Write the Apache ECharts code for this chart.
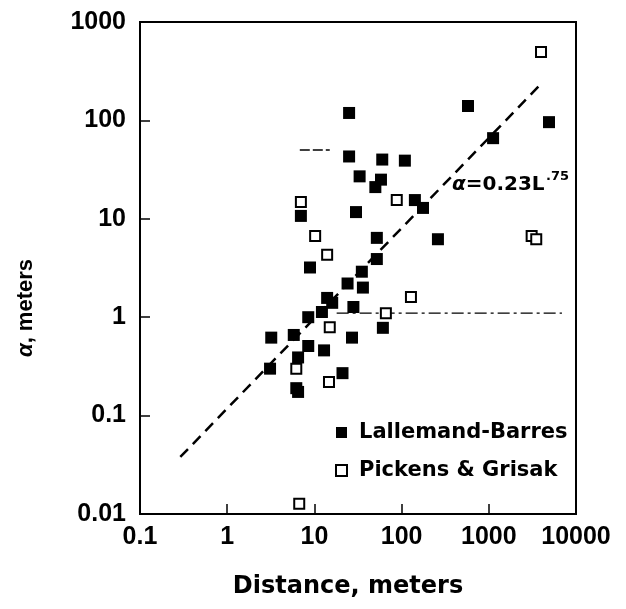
<!DOCTYPE html>
<html>
<head>
<meta charset="utf-8">
<script src="https://cdn.jsdelivr.net/npm/echarts@6/dist/echarts.min.js"></script>
<style>
html,body{margin:0;padding:0;background:#fff;}
#chart{width:626px;height:609px;}
</style>
</head>
<body>
<div id="chart"></div>
<script>
// ---- data ----
var lallemandX = [25, 25, 60, 109, 33, 58, 50, 577, 4900, 1120, 142, 176, 30, 7.0, 52, 261, 52, 8.9, 35, 24, 36, 14, 16, 28, 12.2, 8.5, 61, 27, 3.2, 5.8, 8.5, 12.9, 6.5, 3.1, 21, 6.2, 6.5];
var lallemandY = [119, 43, 40, 39, 27, 25, 21, 140, 96, 66, 15.5, 12.9, 11.7, 10.7, 6.4, 6.2, 3.9, 3.2, 2.9, 2.2, 2.0, 1.57, 1.4, 1.27, 1.13, 1.0, 0.78, 0.62, 0.62, 0.66, 0.51, 0.46, 0.39, 0.30, 0.27, 0.19, 0.174];
var pickensX = [3970, 88, 7.0, 10.2, 14, 3100, 3500, 128, 66, 15, 6.2, 14.7, 6.7];
var pickensY = [495, 15.5, 14.8, 6.7, 4.3, 6.7, 6.2, 1.6, 1.1, 0.79, 0.30, 0.22, 0.0127];
var fitLineX = [0.29, 4070];
var fitLineY = [0.038, 240];
var upperRefX = [6.8, 15];
var upperRefY = [50, 50];
var lowerRefX = [18, 6900];
var lowerRefY = [1.1, 1.1];
var xTickLabels = ['0.1', '1', '10', '100', '1000', '10000'];
var yTickLabels = ['0.01', '0.1', '1', '10', '100', '1000'];
var seriesNames = ['Lallemand-Barres', 'Pickens & Grisak'];

function zip(a, b) { return a.map(function (v, i) { return [v, b[i]]; }); }

var tickFont = 'Liberation Sans, Arial, sans-serif';
var wideFont = 'DejaVu Sans, sans-serif';
var chart = echarts.init(document.getElementById('chart'), null, {renderer: 'canvas'});
var option = {
  animation: false,
  backgroundColor: '#fff',
  grid: {left: 140, top: 22, width: 436, height: 492, show: true, borderColor: '#000', borderWidth: 2, backgroundColor: 'transparent'},
  xAxis: {
    type: 'log', logBase: 10, min: 0.1, max: 10000,
    axisLine: {show: true, lineStyle: {color: '#000', width: 2}},
    axisTick: {show: true, inside: true, length: 10, lineStyle: {color: '#000', width: 1.5}},
    minorTick: {show: false},
    splitLine: {show: false},
    axisLabel: {
      margin: 11, color: '#000', fontSize: 25, fontWeight: 'bold', fontFamily: tickFont,
      formatter: function (v) { return xTickLabels[Math.round(Math.log10(v)) + 1]; }
    }
  },
  yAxis: {
    type: 'log', logBase: 10, min: 0.01, max: 1000,
    axisLine: {show: true, lineStyle: {color: '#000', width: 2}},
    axisTick: {show: true, inside: true, length: 10, lineStyle: {color: '#000', width: 1.5}},
    minorTick: {show: false},
    splitLine: {show: false},
    axisLabel: {
      margin: 14, color: '#000', fontSize: 25, fontWeight: 'bold', fontFamily: tickFont,
      formatter: function (v) { return yTickLabels[Math.round(Math.log10(v)) + 2]; }
    }
  },
  legend: {
    data: seriesNames,
    orient: 'vertical',
    left: 330, top: 416,
    itemWidth: 11, itemHeight: 11,
    itemGap: 15,
    icon: 'rect',
    itemStyle: {opacity: 1},
    textStyle: {color: '#000', fontSize: 21, fontWeight: 'bold', fontFamily: wideFont, lineHeight: 23, padding: [0, 0, 0, 7]}
  },
  series: [
    {
      name: 'fit', type: 'line', data: zip(fitLineX, fitLineY), showSymbol: false, silent: true, z: 1,
      lineStyle: {color: '#000', width: 2.5, type: [11, 7]}
    },
    {
      name: 'upperRef', type: 'line', data: zip(upperRefX, upperRefY), showSymbol: false, silent: true, z: 1,
      lineStyle: {color: '#000', width: 1.3, type: [10, 3]}
    },
    {
      name: 'lowerRef', type: 'line', data: zip(lowerRefX, lowerRefY), showSymbol: false, silent: true, z: 1,
      lineStyle: {color: '#000', width: 1.3, type: [12, 4, 3, 4]}
    },
    {
      name: seriesNames[0], type: 'scatter', data: zip(lallemandX, lallemandY), symbol: 'rect', symbolSize: 12, z: 3,
      itemStyle: {color: '#000', opacity: 1}
    },
    {
      name: seriesNames[1], type: 'scatter', data: zip(pickensX, pickensY), symbol: 'rect', symbolSize: 10, z: 4,
      itemStyle: {color: '#fff', borderColor: '#000', borderWidth: 2, opacity: 1}
    }
  ],
  graphic: [
    {
      type: 'text', x: 26, y: 308, rotation: Math.PI / 2,
      style: {
        text: '{i|α}, meters', align: 'center', verticalAlign: 'middle',
        fill: '#000', fontSize: 22, fontWeight: 'bold', fontFamily: tickFont,
        rich: {i: {fontStyle: 'italic', fontSize: 22, fontWeight: 'bold', fontFamily: tickFont, fill: '#000'}}
      }
    },
    {
      type: 'text', x: 348, y: 587,
      style: {text: 'Distance, meters', align: 'center', verticalAlign: 'middle', fill: '#000', fontSize: 24, fontWeight: 'bold', fontFamily: wideFont}
    },
    {
      type: 'text', x: 452, y: 185,
      style: {
        text: '{i|α}=0.23L', align: 'left', verticalAlign: 'middle', fill: '#000', fontSize: 20, fontWeight: 'bold', fontFamily: wideFont,
        rich: {i: {fontStyle: 'italic', fontSize: 20, fontWeight: 'bold', fontFamily: wideFont, fill: '#000'}}
      }
    },
    {
      type: 'text', x: 546, y: 177,
      style: {text: '.75', align: 'left', verticalAlign: 'middle', fill: '#000', fontSize: 13, fontWeight: 'bold', fontFamily: wideFont}
    }
  ]
};
chart.setOption(option);
</script>
</body>
</html>
